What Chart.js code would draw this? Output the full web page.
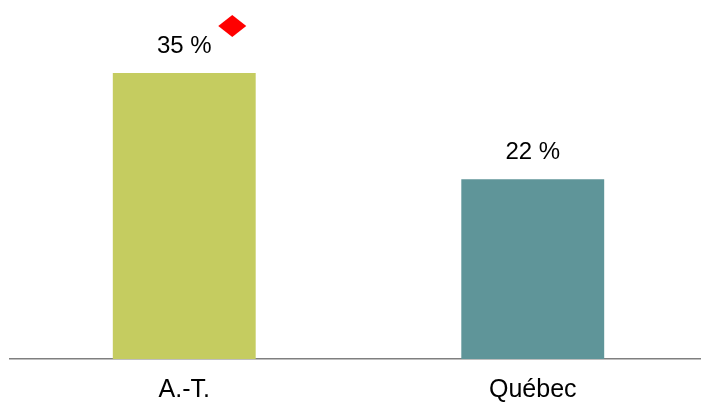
<!DOCTYPE html>
<html>
<head>
<meta charset="utf-8">
<script src="https://cdn.jsdelivr.net/npm/chart.js@4"></script>
<style>
  html, body { margin: 0; padding: 0; background: #fff; overflow: hidden; }
  .wrap { width: 707px; height: 404px; }
</style>
</head>
<body>
<div class="wrap"><canvas id="chart"></canvas></div>
<script>
const regions = ['A.-T.', 'Québec'];
const percents = [35, 22];
const barColors = ['#C5CC60', '#5F9599'];
// red diamond = significant difference marker
const flagged = [true, false];

const valueLabels = {
  id: 'valueLabels',
  afterDatasetsDraw(chart) {
    const ctx = chart.ctx;
    const meta = chart.getDatasetMeta(0);
    ctx.save();
    ctx.font = '24px "Liberation Sans", Arial, sans-serif';
    ctx.textAlign = 'center';
    ctx.textBaseline = 'middle';
    meta.data.forEach((bar, i) => {
      ctx.fillStyle = '#000';
      ctx.fillText(percents[i] + ' %', bar.x, bar.y - 27);
      if (flagged[i]) {
        const cx = bar.x + 48, cy = bar.y - 47, rx = 14, ry = 11;
        ctx.fillStyle = '#FF0000';
        ctx.beginPath();
        ctx.moveTo(cx, cy - ry);
        ctx.lineTo(cx + rx, cy);
        ctx.lineTo(cx, cy + ry);
        ctx.lineTo(cx - rx, cy);
        ctx.closePath();
        ctx.fill();
      }
    });
    ctx.restore();
  }
};

new Chart(document.getElementById('chart'), {
  type: 'bar',
  data: {
    labels: regions,
    datasets: [{
      data: percents,
      backgroundColor: barColors,
      barPercentage: 1,
      categoryPercentage: 0.41,
    }],
  },
  options: {
    responsive: true,
    maintainAspectRatio: false,
    animation: false,
    layout: { padding: { top: 32, left: 10, right: 0, bottom: 0 } },
    plugins: { legend: { display: false }, tooltip: { enabled: false } },
    scales: {
      x: {
        grid: { display: false, drawTicks: false },
        border: { display: true, color: '#7F7F7F', width: 1.5 },
        ticks: {
          color: '#000',
          padding: 16,
          font: { size: 25, family: '"Liberation Sans", Arial, sans-serif' },
        },
        afterFit(scale) { scale.height = 45; },
      },
      y: {
        display: false,
        min: 0,
        max: 40,
      },
    },
  },
  plugins: [valueLabels],
});
</script>
</body>
</html>
